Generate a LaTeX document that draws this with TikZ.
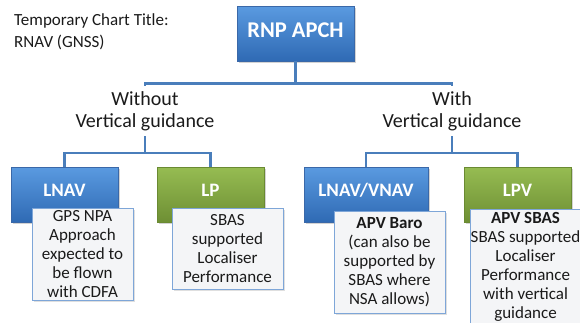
\documentclass[tikz,border=0pt]{standalone}
\usepackage{fontspec}
\setmainfont{Carlito}
\usetikzlibrary{shadows,calc}
\definecolor{lineblue}{HTML}{4A7EBB}
\definecolor{bluetop}{HTML}{5A9AE0}
\definecolor{bluebot}{HTML}{2F6AB4}
\definecolor{blueedge}{HTML}{3A68A8}
\definecolor{greentop}{HTML}{96BC52}
\definecolor{greenbot}{HTML}{6E8F34}
\definecolor{greenedge}{HTML}{6A8A32}
\definecolor{descedge}{HTML}{7EA6D8}
\definecolor{descfill}{HTML}{F4F5F7}
\definecolor{txt}{HTML}{1A1A1A}
\tikzset{
  catbox/.style={draw, line width=0.8pt, minimum height=55pt, inner sep=0pt,
    text=white, font=\fontsize{19}{22}\selectfont\bfseries,
    drop shadow={opacity=0.35, shadow xshift=1.5pt, shadow yshift=-1.5pt}},
  bluebox/.style={catbox, top color=bluetop, bottom color=bluebot, draw=blueedge},
  greenbox/.style={catbox, top color=greentop, bottom color=greenbot, draw=greenedge},
  desc/.style={draw=descedge, fill=descfill, line width=0.9pt, inner sep=0pt,
    align=center, text=txt, font=\fontsize{17}{19}\selectfont,
    drop shadow={opacity=0.25, shadow xshift=1.5pt, shadow yshift=-1.5pt}},
  branch/.style={align=center, inner sep=0pt, minimum height=50pt, text=txt,
    font=\fontsize{20}{22}\selectfont},
  conn/.style={draw=lineblue, line width=2.2pt}
}
\begin{document}
\begin{tikzpicture}[x=1pt, y=-1pt]
\useasboundingbox (0,0) rectangle (580,322);
\clip (0,0) rectangle (580,322);

\node[anchor=north west, align=left, inner sep=0pt, text=txt,
  font=\fontsize{17}{22}\selectfont] (title) at (14,13)
  {Temporary Chart Title:\\RNAV (GNSS)};

\node[bluebox, minimum width=117pt, font=\fontsize{22.5}{26}\selectfont\bfseries]
  (top) at (295.5,33.5) {\raisebox{3pt}[\height][\depth]{RNP APCH}};

\node[branch] (without) at (145,111) {Without\\Vertical guidance};
\node[branch] (with) at (452,111) {With\\Vertical guidance};

\node[bluebox, minimum width=107pt] (lnav) at (64.5,194.5) {\raisebox{4pt}[\height][\depth]{LNAV}};
\node[greenbox, minimum width=107pt] (lp) at (210.5,194.5) {\raisebox{4pt}[\height][\depth]{LP}};
\node[bluebox, minimum width=124pt] (lnavvnav) at (366,194.5) {\raisebox{4pt}[\height][\depth]{LNAV/VNAV}};
\node[greenbox, minimum width=107pt] (lpv) at (517.5,194.5) {\raisebox{4pt}[\height][\depth]{LPV}};

\node[desc, minimum width=101pt, minimum height=92pt] (lnavd) at (82.5,254)
  {GPS NPA\\Approach\\expected to\\be flown\\with CDFA};
\node[desc, minimum width=111pt, minimum height=81pt] (lpd) at (227.5,248.5)
  {SBAS\\supported\\Localiser\\Performance};
\node[desc, minimum width=111pt, minimum height=102pt] (lnavvnavd) at (389.5,262)
  {\textbf{APV Baro}\\(can also be\\supported by\\SBAS where\\NSA allows)};
\node[desc, minimum width=111pt, minimum height=116pt] (lpvd) at (525.5,267)
  {\textbf{APV SBAS}\\SBAS supported\\Localiser\\Performance\\with vertical\\guidance};

\coordinate (tj) at ($(top.south)+(0,22)$);
\draw[conn] (top.south) -- (tj) -| (without.north);
\draw[conn] (tj) -| (with.north);

\coordinate (wj) at ($(without.south)+(0,17)$);
\draw[conn] (without.south) -- (wj) -| (lnav.north);
\draw[conn] (wj) -| (lp.north);

\coordinate (vj) at ($(with.south)+(0,17)$);
\draw[conn] (with.south) -- (vj) -| (lnavvnav.north);
\draw[conn] (vj) -| (lpv.north);
\end{tikzpicture}
\end{document}
